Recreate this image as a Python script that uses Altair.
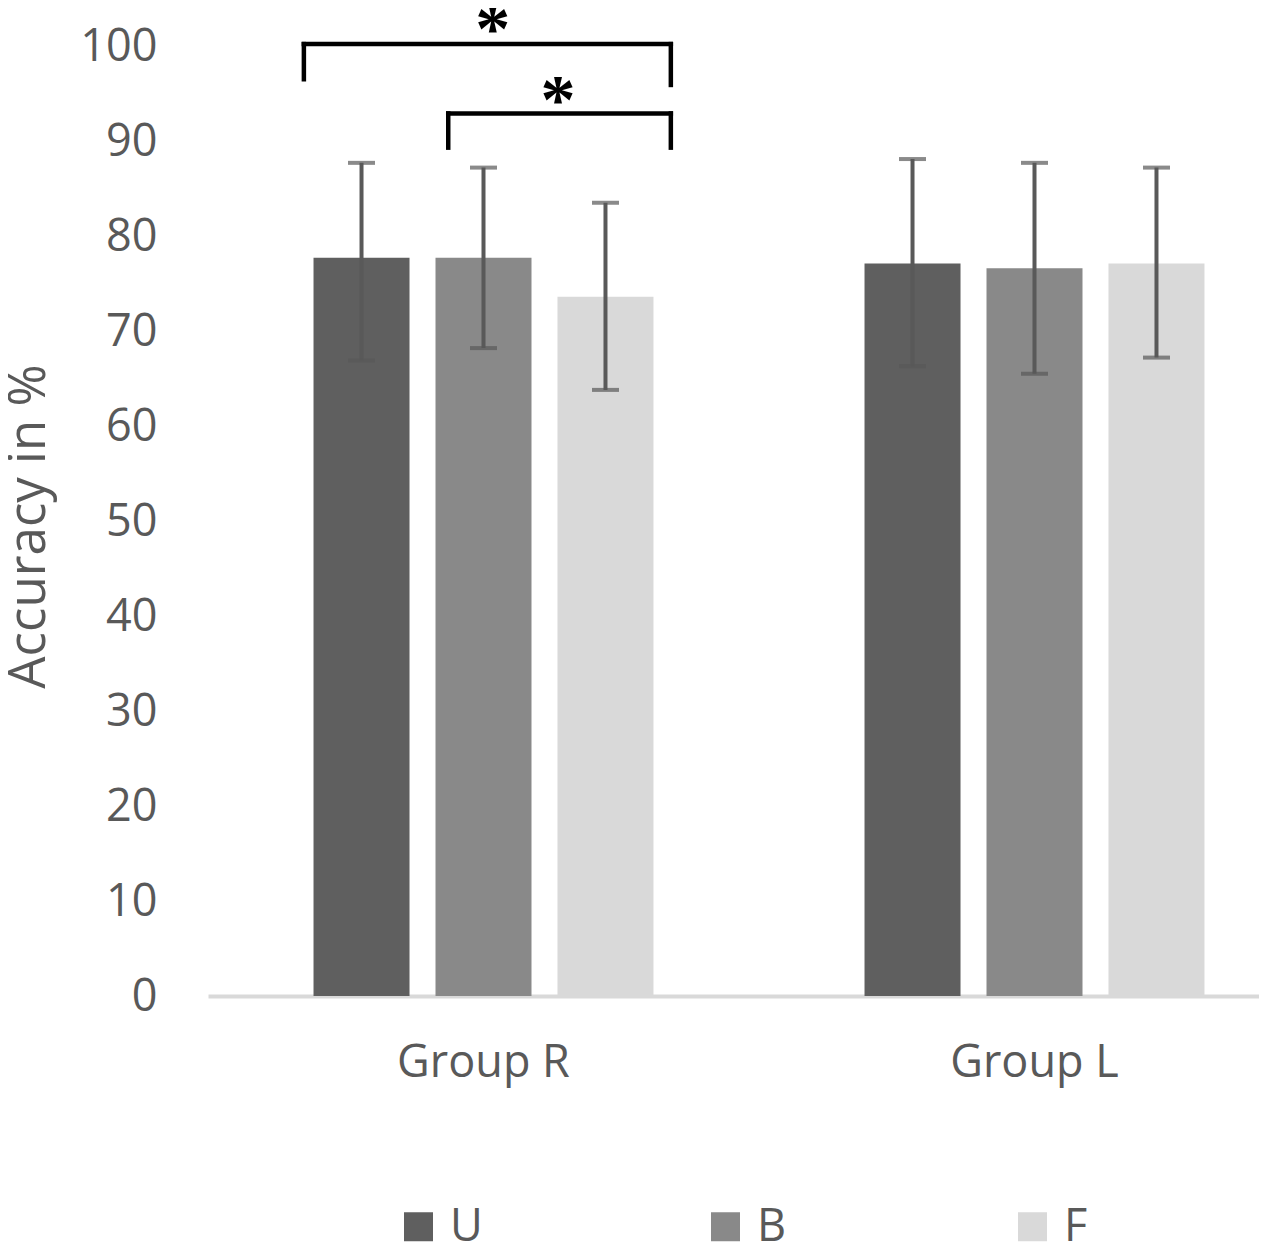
import altair as alt
import pandas as pd

# ---- data ----
groups = ["Group R", "Group R", "Group R", "Group L", "Group L", "Group L"]
conditions = ["U", "B", "F", "U", "B", "F"]
means = [77.7, 77.7, 73.6, 77.1, 76.6, 77.1]
upper = [87.7, 87.2, 83.5, 88.1, 87.7, 87.2]
lower = [66.9, 68.2, 63.8, 66.3, 65.5, 67.2]

group_order = ["Group R", "Group L"]
cond_order = ["U", "B", "F"]
cond_colors = ["#5f5f5f", "#898989", "#d9d9d9"]
y_ticks = [0, 10, 20, 30, 40, 50, 60, 70, 80, 90, 100]

# significance brackets (x in group units: 0..2 spans both groups)
br_left = [0.174, 0.436]
br_right = [0.840, 0.840]
br_top = [100.2, 92.9]
br_left_end = [96.5, 89.3]
br_right_end = [95.9, 89.3]
star_x = [0.517, 0.635]
star_y = [102.4, 94.9]
star_text = ["*", "*"]

FONT = "Open Sans"
TXT = "#595959"

df = pd.DataFrame({"group": groups, "cond": conditions, "mean": means,
                   "upper": upper, "lower": lower})

segs = []
for i in range(len(br_left)):
    segs.append({"x1": br_left[i], "x2": br_right[i], "y1": br_top[i], "y2": br_top[i]})
    segs.append({"x1": br_left[i], "x2": br_left[i], "y1": br_top[i], "y2": br_left_end[i]})
    segs.append({"x1": br_right[i], "x2": br_right[i], "y1": br_top[i], "y2": br_right_end[i]})
seg_df = pd.DataFrame(segs)
star_df = pd.DataFrame({"x": star_x, "y": star_y, "t": star_text})

y_scale = alt.Scale(domain=[0, 104], nice=False, zero=True)
x_scale = alt.Scale(domain=group_order, range=[0, 1102], paddingInner=0, paddingOuter=0)
xo_scale = alt.Scale(domain=cond_order, paddingInner=0.213, paddingOuter=0.865)

x_axis = alt.Axis(title=None, labelFontSize=45, labelFont=FONT, labelColor=TXT,
                  labelAngle=0, ticks=False, domainColor="#d9d9d9", domainWidth=4,
                  labelPadding=44, labelBaseline="top", grid=False, labelLimit=500)
y_axis = alt.Axis(values=y_ticks, title="Accuracy in %", grid=False, domain=False,
                  ticks=False, labelPadding=51, labelFontSize=45, labelFont=FONT,
                  labelColor=TXT, titleFont=FONT, titleFontSize=51,
                  titleFontWeight="normal", titleColor=TXT, titleAngle=-90,
                  titleX=-179, titleY=518, titleAlign="center", titleBaseline="middle")

X = alt.X("group:N", sort=group_order, scale=x_scale, axis=x_axis)
XO = alt.XOffset("cond:N", sort=cond_order, scale=xo_scale)

bars = alt.Chart(df).mark_bar().encode(
    x=X,
    xOffset=XO,
    y=alt.Y("mean:Q", scale=y_scale, axis=y_axis),
    color=alt.Color("cond:N", sort=cond_order,
                    scale=alt.Scale(domain=cond_order, range=cond_colors),
                    legend=alt.Legend(orient="none", legendX=188, legendY=1196,
                                      direction="horizontal", columns=3, title=None,
                                      symbolType="square", symbolSize=841,
                                      symbolStrokeWidth=0, labelFontSize=45,
                                      labelFont=FONT, labelColor=TXT, labelOffset=9,
                                      columnPadding=220, gridAlign="all", padding=0)),
)

errs = alt.Chart(df).mark_rule(color=TXT, strokeWidth=4).encode(
    x=X, xOffset=XO,
    y=alt.Y("lower:Q", scale=y_scale, axis=y_axis),
    y2="upper:Q",
)
cap_hi = alt.Chart(df).mark_tick(color=TXT, thickness=4, size=27).encode(
    x=X, xOffset=XO,
    y=alt.Y("upper:Q", scale=y_scale, axis=y_axis),
)
cap_lo = alt.Chart(df).mark_tick(color=TXT, thickness=4, size=27).encode(
    x=X, xOffset=XO,
    y=alt.Y("lower:Q", scale=y_scale, axis=y_axis),
)

main = alt.layer(bars, errs, cap_hi, cap_lo)

qx = alt.Scale(domain=[0, 2], range=[0, 1102], nice=False, zero=False)
brackets = alt.Chart(seg_df).mark_rule(color="black", strokeWidth=4.5, strokeCap="square").encode(
    x=alt.X("x1:Q", scale=qx, axis=None),
    x2="x2:Q",
    y=alt.Y("y1:Q", scale=y_scale, axis=y_axis),
    y2="y2:Q",
)
stars = alt.Chart(star_df).mark_text(font="Liberation Serif", fontSize=70, fontWeight="bold",
                                     color="black", baseline="middle", dy=8).encode(
    x=alt.X("x:Q", scale=qx, axis=None),
    y=alt.Y("y:Q", scale=y_scale, axis=y_axis),
    text="t:N",
)
annot = alt.layer(brackets, stars)

chart = alt.layer(main, annot).resolve_scale(x="independent").properties(
    width=1051, height=988,
    autosize=alt.AutoSizeParams(type="none"),
    padding={"left": 200, "top": 0, "right": 0, "bottom": 254},
    background="white",
).configure_view(stroke=None)

chart.save("out.html", embed_options={"renderer": "svg", "actions": False})
